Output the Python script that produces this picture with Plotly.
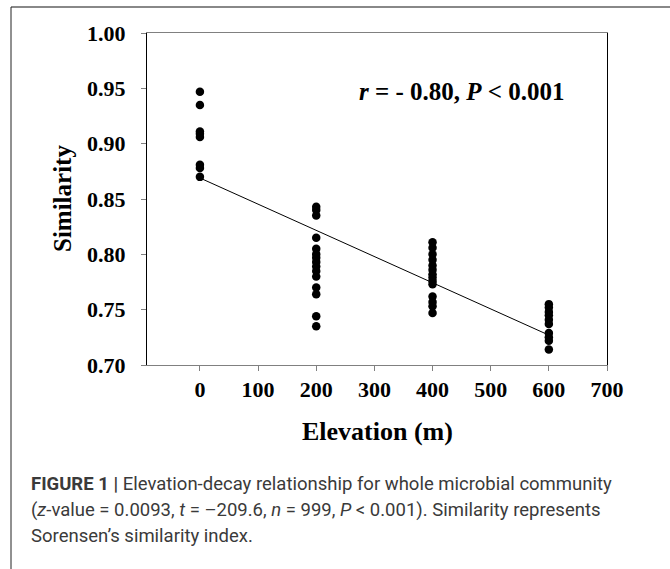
import plotly.graph_objects as go

# ---- data ----
elev_0 = [0.947, 0.935, 0.911, 0.909, 0.906, 0.881, 0.878, 0.870]
elev_200 = [0.843, 0.840, 0.835, 0.815, 0.805, 0.800, 0.797, 0.793, 0.789,
            0.785, 0.780, 0.770, 0.764, 0.744, 0.735]
elev_400 = [0.811, 0.806, 0.800, 0.795, 0.790, 0.786, 0.782, 0.779, 0.776,
            0.773, 0.762, 0.757, 0.753, 0.747]
elev_600 = [0.755, 0.752, 0.748, 0.745, 0.741, 0.737, 0.729, 0.725, 0.722, 0.714]
groups = {0: elev_0, 200: elev_200, 400: elev_400, 600: elev_600}

fit_x = [0, 600]
fit_y = [0.869, 0.727]

x_ticks = [0, 100, 200, 300, 400, 500, 600, 700]
y_ticks = [0.70, 0.75, 0.80, 0.85, 0.90, 0.95, 1.00]

xs, ys = [], []
for e, vals in groups.items():
    xs += [e] * len(vals)
    ys += vals

W, H = 670, 569
PL, PR, PT, PB = 147, 607, 33, 365  # plot-area edges in pixels


def px(x):
    return x / W


def py(y):
    return 1 - y / H


fig = go.Figure()
fig.add_trace(go.Scatter(x=fit_x, y=fit_y, mode="lines",
                         line=dict(color="black", width=1), hoverinfo="skip"))
fig.add_trace(go.Scatter(x=xs, y=ys, mode="markers",
                         marker=dict(color="black", size=8.5)))

serif = "Liberation Serif, Times New Roman, serif"
tickfont = dict(family=serif, size=22, color="black")

fig.update_layout(
    width=W, height=H, autosize=False,
    margin=dict(l=0, r=0, t=0, b=0, autoexpand=False),
    paper_bgcolor="white", plot_bgcolor="white",
    showlegend=False,
    xaxis=dict(domain=[px(PL), px(PR)], range=[-91, 700], tickvals=x_ticks,
               ticktext=[f"<b>{v}</b>" for v in x_ticks], automargin=False,
               showgrid=False, zeroline=False, showline=True, linecolor="#808080",
               linewidth=1, mirror=True, ticks="outside", ticklen=5, tickcolor="#808080",
               tickfont=tickfont),
    yaxis=dict(domain=[py(PB), py(PT)], range=[0.70, 1.00], tickvals=y_ticks,
               ticktext=[f"<b>{v:.2f}</b>\u00a0\u00a0" for v in y_ticks], automargin=False,
               showgrid=False, zeroline=False, showline=True, linecolor="black",
               linewidth=1, mirror=True, ticks="outside", ticklen=5, tickcolor="#808080",
               tickfont=tickfont),
)

# axis titles
fig.add_annotation(xref="paper", yref="paper", x=px((PL + PR) / 2), y=py(431),
                   text="<b>Elevation (m)</b>", showarrow=False,
                   font=dict(family=serif, size=26, color="black"), xanchor="center", yanchor="middle")
fig.add_annotation(xref="paper", yref="paper", x=px(62), y=py((PT + PB) / 2),
                   text="<b>Similarity</b>", showarrow=False, textangle=-90,
                   font=dict(family=serif, size=25, color="black"), xanchor="center", yanchor="middle")

fig.add_annotation(xref="paper", yref="paper", x=px(462), y=py(92),
                   text="<b><i>r</i> = - 0.80, <i>P</i> &lt; 0.001</b>", showarrow=False,
                   font=dict(family=serif, size=25, color="black"), xanchor="center", yanchor="middle")

# outer frame (top and left edges)
fig.add_shape(type="line", xref="paper", yref="paper", x0=px(11), y0=py(7), x1=1, y1=py(7),
              line=dict(color="#888888", width=2), layer="above")
fig.add_shape(type="line", xref="paper", yref="paper", x0=px(11), y0=py(7), x1=px(11), y1=0,
              line=dict(color="#222222", width=1), layer="above")

cap_font = dict(family="Roboto, Liberation Sans, sans-serif", size=18.5, color="#3a3a3a")
caption = [
    "<b>FIGURE 1 |</b> Elevation-decay relationship for whole microbial community",
    "(<i>z</i>-value = 0.0093, <i>t</i> = \u2013209.6, <i>n</i> = 999, <i>P</i> &lt; 0.001). Similarity represents",
    "Sorensen\u2019s similarity index.",
]
for i, line in enumerate(caption):
    fig.add_annotation(xref="paper", yref="paper", x=px(29), y=py(484 + 26 * i), text=line,
                       showarrow=False, font=cap_font, xanchor="left", yanchor="middle", align="left")

fig.write_html("out.html", config={"displayModeBar": False, "responsive": False},
               post_script="document.body.style.margin='0';document.body.style.overflow='hidden';")
